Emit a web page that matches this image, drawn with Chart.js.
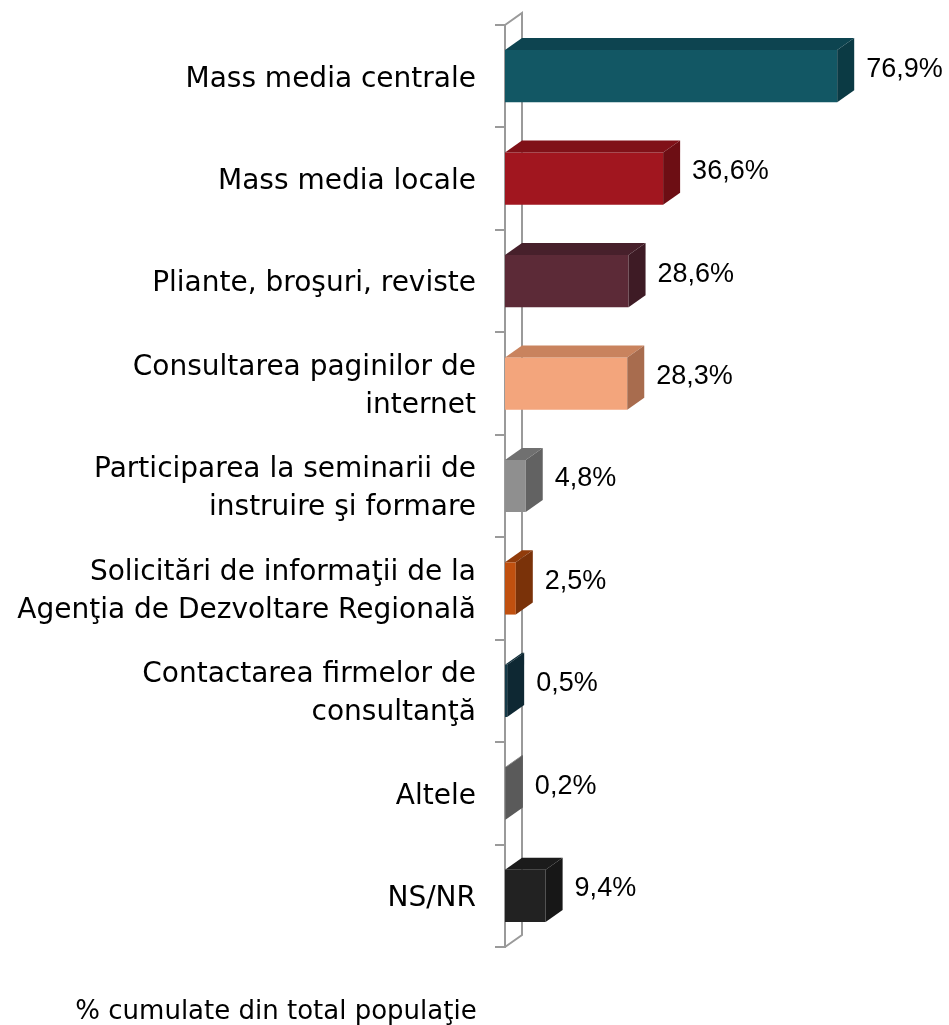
<!DOCTYPE html>
<html>
<head>
<meta charset="utf-8">
<script src="https://cdn.jsdelivr.net/npm/chart.js@4"></script>
<style>
  html, body { margin: 0; padding: 0; background: #ffffff; }
  #wrap { width: 949px; height: 1025px; }
</style>
</head>
<body>
<div id="wrap"><canvas id="chart" width="949" height="1025"></canvas></div>
<script>
// Information sources, share of respondents (%)
const categories = [
  'Mass media centrale',
  'Mass media locale',
  'Pliante, broşuri, reviste',
  ['Consultarea paginilor de', 'internet'],
  ['Participarea la seminarii de', 'instruire şi formare'],
  ['Solicitări de informaţii de la', 'Agenţia de Dezvoltare Regională'],
  ['Contactarea firmelor de', 'consultanţă'],
  'Altele',
  'NS/NR'
];
const values = [76.9, 36.6, 28.6, 28.3, 4.8, 2.5, 0.5, 0.2, 9.4];
const frontColors = ['#125764', '#a1161f', '#5c2a37', '#f3a57c', '#8f8f8f', '#c0500f', '#163b49', '#6a6a6a', '#222222'];
const topColors   = ['#0d4450', '#801118', '#47202b', '#c9835e', '#707070', '#913c0b', '#112f3b', '#585858', '#1b1b1b'];
const sideColors  = ['#0b3a44', '#6d0e14', '#3e1b25', '#a86c4e', '#626262', '#7a3209', '#0e2833', '#5a5a5a', '#171717'];
const axisTitle = '% cumulate din total populaţie';

const DEPTH_X = 17, DEPTH_Y = 12;
const WALL = '#9a9a9a';

const fmt = v => v.toFixed(1).replace('.', ',') + '%';

// back wall of the 3D frame
const wallPlugin = {
  id: 'wall3d',
  beforeDatasetsDraw(chart) {
    const { ctx, chartArea: a } = chart;
    ctx.save();
    ctx.strokeStyle = WALL;
    ctx.lineWidth = 2;
    ctx.beginPath();
    ctx.moveTo(a.left, a.top);
    ctx.lineTo(a.left + DEPTH_X, a.top - DEPTH_Y);
    ctx.lineTo(a.left + DEPTH_X, a.bottom - DEPTH_Y);
    ctx.lineTo(a.left, a.bottom);
    ctx.stroke();
    ctx.restore();
  }
};

// top and side faces of each bar plus value labels
const bar3dPlugin = {
  id: 'bar3d',
  afterDatasetsDraw(chart) {
    const { ctx } = chart;
    const meta = chart.getDatasetMeta(0);
    ctx.save();
    meta.data.forEach((bar, i) => {
      const { x, y, base, height } = bar.getProps(['x', 'y', 'base', 'height'], true);
      const top = y - height / 2, bottom = y + height / 2;
      ctx.fillStyle = topColors[i];
      ctx.beginPath();
      ctx.moveTo(base, top);
      ctx.lineTo(x, top);
      ctx.lineTo(x + DEPTH_X, top - DEPTH_Y);
      ctx.lineTo(base + DEPTH_X, top - DEPTH_Y);
      ctx.closePath();
      ctx.fill();
      ctx.fillStyle = sideColors[i];
      ctx.beginPath();
      ctx.moveTo(x, top);
      ctx.lineTo(x + DEPTH_X, top - DEPTH_Y);
      ctx.lineTo(x + DEPTH_X, bottom - DEPTH_Y);
      ctx.lineTo(x, bottom);
      ctx.closePath();
      ctx.fill();

      ctx.fillStyle = '#000000';
      ctx.font = '27px "Liberation Sans", Arial, sans-serif';
      ctx.textAlign = 'left';
      ctx.textBaseline = 'middle';
      ctx.fillText(fmt(values[i]), x + DEPTH_X + 12, y - 7);
    });
    ctx.restore();
  }
};

// axis caption under the category labels
const captionPlugin = {
  id: 'caption',
  afterDraw(chart) {
    const { ctx } = chart;
    ctx.save();
    ctx.fillStyle = '#000000';
    ctx.font = '26px "DejaVu Sans", sans-serif';
    ctx.textAlign = 'center';
    ctx.textBaseline = 'middle';
    ctx.fillText(axisTitle, 276, 1012);
    ctx.restore();
  }
};

new Chart(document.getElementById('chart'), {
  type: 'bar',
  data: {
    labels: categories,
    datasets: [{
      data: values,
      backgroundColor: frontColors,
      borderWidth: 0,
      categoryPercentage: 1,
      barPercentage: 0.51
    }]
  },
  options: {
    indexAxis: 'y',
    responsive: false,
    animation: false,
    layout: { padding: { top: 25, bottom: 78, right: 12, left: 0 } },
    plugins: { legend: { display: false }, tooltip: { enabled: false }, title: { display: false } },
    scales: {
      x: { display: false, min: 0, max: 100 },
      y: {
        afterFit(scale) {
          scale.width = 505;
          scale.paddingTop = 0;
          scale.paddingBottom = 0;
        },
        grid: { drawOnChartArea: false, color: WALL, lineWidth: 2, tickLength: 10, offset: true },
        border: { display: true, color: WALL, width: 2 },
        ticks: {
          color: '#000000',
          padding: 19,
          labelOffset: 3,
          font: { family: '"DejaVu Sans", sans-serif', size: 28, lineHeight: 1.36 }
        }
      }
    }
  },
  plugins: [wallPlugin, bar3dPlugin, captionPlugin]
});
</script>
</body>
</html>
